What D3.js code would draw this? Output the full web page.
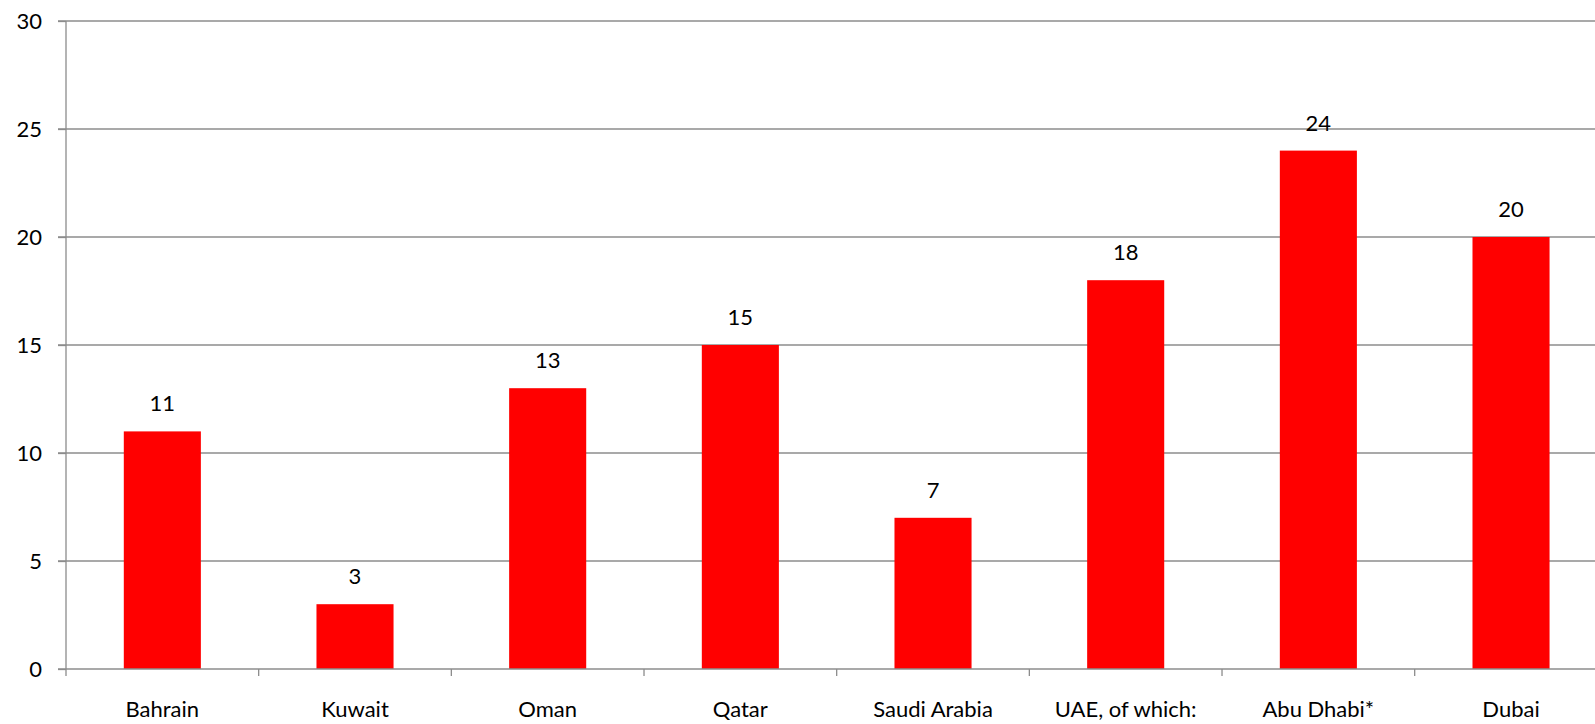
<!DOCTYPE html>
<html><head><meta charset="utf-8">
<script src="https://cdn.jsdelivr.net/npm/d3@7"></script>
<style>body{margin:0;background:#fff;overflow:hidden}svg{display:block}</style>
</head><body>
<script>
const categories = ["Bahrain","Kuwait","Oman","Qatar","Saudi Arabia","UAE, of which:","Abu Dhabi*","Dubai"];
const values = [11,3,13,15,7,18,24,20];
const yTicks = [0,5,10,15,20,25,30];

const W = 1595, H = 724;
const mLeft = 66, mTop = 21, mBottom = 669;
const band = 192.67;
const mRight = mLeft + band * categories.length;
const font = "Lato, 'Open Sans', sans-serif";
const fs = 22;

const svg = d3.select("body").append("svg").attr("width", W).attr("height", H);
const x = d3.scaleBand().domain(categories).range([mLeft, mRight]).paddingInner(0.6).paddingOuter(0.3);
const y = d3.scaleLinear().domain([0,30]).range([mBottom, mTop]);

// gridlines
svg.append("g").selectAll("line").data(yTicks.filter(d=>d>0)).join("line")
  .attr("x1", mLeft - 8).attr("x2", mRight).attr("y1", d=>y(d)).attr("y2", d=>y(d))
  .attr("stroke", "#8c8c8c").attr("stroke-width", 1.3);

// bars
svg.append("g").selectAll("rect").data(values).join("rect")
  .attr("x", (d,i)=>x(categories[i])).attr("width", x.bandwidth())
  .attr("y", d=>y(d)).attr("height", d=>mBottom - y(d))
  .attr("fill", "#ff0000");

// value labels
svg.append("g").selectAll("text").data(values).join("text")
  .attr("x", (d,i)=>x(categories[i]) + x.bandwidth()/2).attr("y", d=>y(d) - 20)
  .attr("text-anchor", "middle").attr("font-family", font).attr("font-size", fs).attr("fill", "#000")
  .text(d=>d);

// y axis
const yAxis = d3.axisLeft(y).tickValues(yTicks).tickSize(8).tickPadding(16);
const gy = svg.append("g").attr("transform", `translate(${mLeft},0)`).call(yAxis);
gy.select(".domain").attr("stroke", "#8c8c8c").attr("stroke-width", 1.3).attr("d", `M0,${mTop}V${mBottom}`);
gy.selectAll(".tick line").attr("stroke", "#8c8c8c").attr("stroke-width", 1.3);
gy.selectAll(".tick text").attr("font-family", font).attr("font-size", fs).attr("fill", "#000");

// x axis
const xs = d3.scaleLinear().domain([0, categories.length]).range([mLeft, mRight]);
const boundaries = d3.range(categories.length + 1);
const gx = svg.append("g");
gx.append("line").attr("x1", mLeft - 8).attr("x2", mRight).attr("y1", mBottom).attr("y2", mBottom)
  .attr("stroke", "#8c8c8c").attr("stroke-width", 1.3);
gx.selectAll("line.t").data(boundaries).join("line").attr("class","t")
  .attr("x1", d=>xs(d)).attr("x2", d=>xs(d)).attr("y1", mBottom).attr("y2", mBottom + 7)
  .attr("stroke", "#8c8c8c").attr("stroke-width", 1.3);
gx.selectAll("text").data(categories).join("text")
  .attr("x", d=>x(d) + x.bandwidth()/2).attr("y", mBottom + 48)
  .attr("text-anchor", "middle").attr("font-family", font).attr("font-size", fs).attr("fill", "#000")
  .text(d=>d);
</script>
</body></html>
